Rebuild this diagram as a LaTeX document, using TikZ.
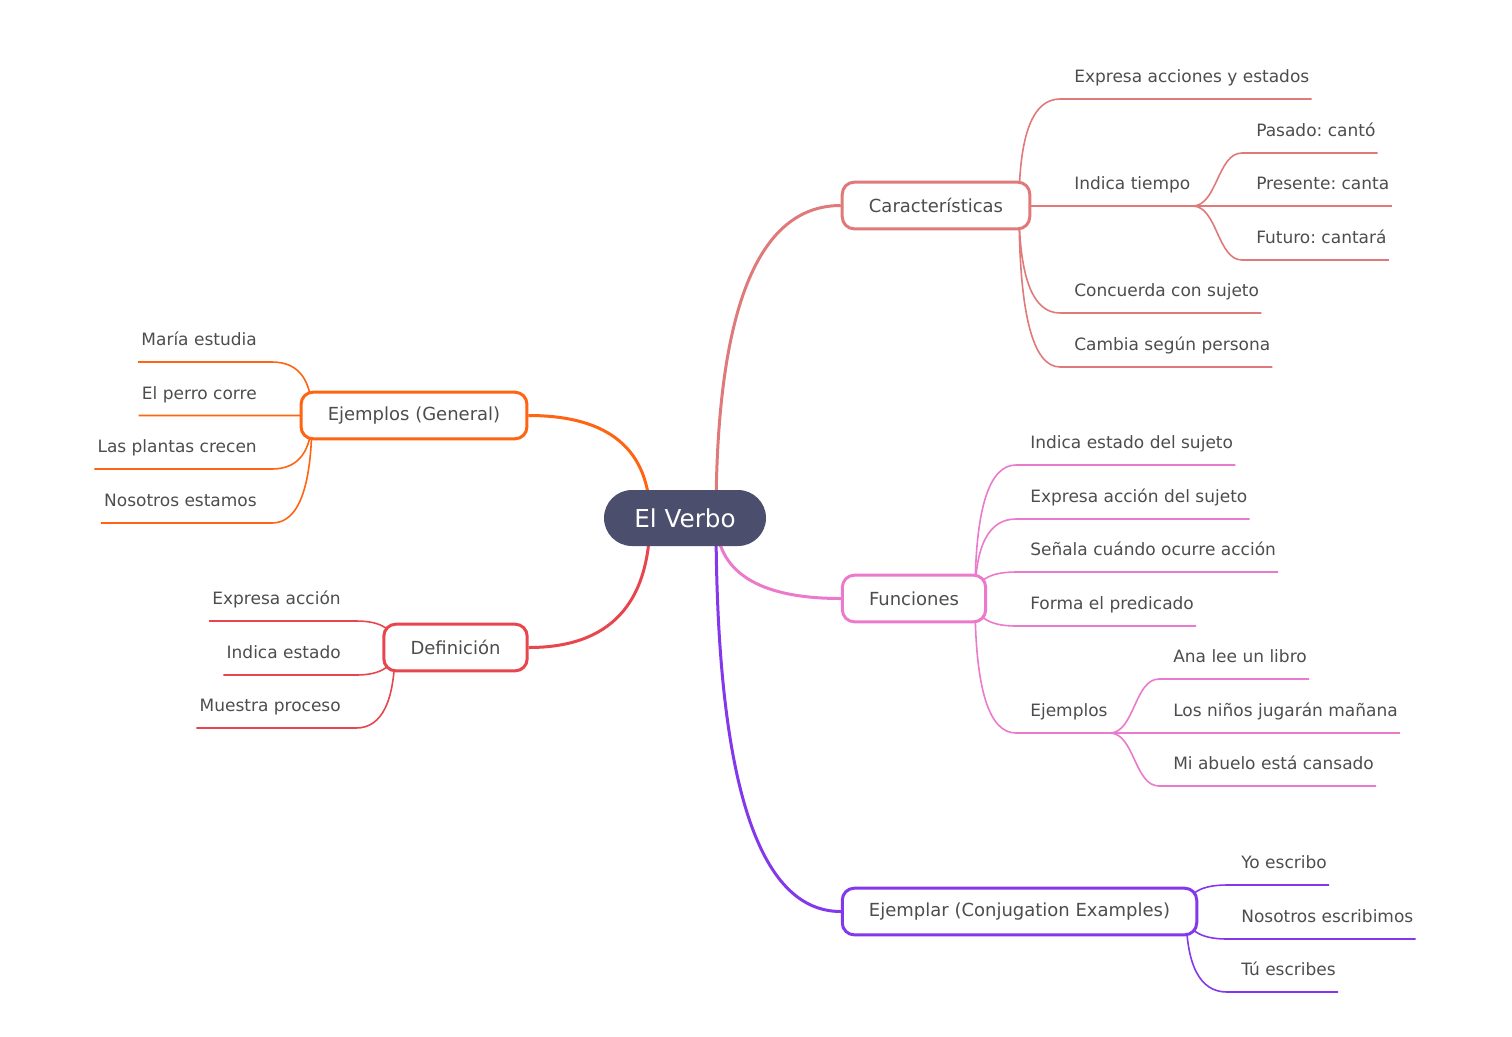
\documentclass[tikz,border=0pt]{standalone}
\usepackage{fontspec}
\setmainfont{DejaVu Sans}
\usetikzlibrary{calc,backgrounds}

\definecolor{rootfill}{HTML}{4B4E6D}
\definecolor{txt}{HTML}{4D4D4D}
\definecolor{carcol}{HTML}{E07A7A}
\definecolor{egcol}{HTML}{FF6412}
\definecolor{defcol}{HTML}{E8464F}
\definecolor{funcol}{HTML}{EA7ACB}
\definecolor{ejcol}{HTML}{8338EC}

\tikzset{
  root/.style={fill=rootfill, text=white, rounded corners=21pt, minimum width=121.5pt,
    minimum height=42pt, inner sep=0pt, font=\fontsize{18.5}{20}\selectfont},
  topic/.style={draw=#1, line width=2.25pt, fill=white, rounded corners=9pt,
    minimum height=35pt, inner xsep=20pt, text=txt, font=\fontsize{13.5}{15}\selectfont},
  leafbase/.style={inner xsep=0pt, inner ysep=12pt, text depth=0pt, text=txt,
    font=\fontsize{12.75}{14}\selectfont},
  leaf/.style={leafbase, anchor=south west,
    execute at begin node={\hspace*{10.5pt}}, execute at end node={\hspace*{1.5pt}}},
  lleaf/.style={leafbase, anchor=south east,
    execute at begin node={\hspace*{2.25pt}}, execute at end node={\hspace*{11.25pt}}},
  branch/.style={draw=#1, line width=2.25pt},
  twig/.style={draw=#1, line width=1.2pt},
  % vertical start, horizontal end
  qc/.style={to path={.. controls ($(\tikztostart)!2/3!(\tikztostart|-\tikztotarget)$)
    and ($(\tikztotarget)!2/3!(\tikztostart|-\tikztotarget)$) .. (\tikztotarget) \tikztonodes}},
  % horizontal start, horizontal end
  sc/.style={to path={.. controls ($(\tikztostart)!0.5!(\tikztostart-|\tikztotarget)$)
    and ($(\tikztotarget)!0.5!(\tikztotarget-|\tikztostart)$) .. (\tikztotarget) \tikztonodes}}
}

\begin{document}
\frenchspacing
\begin{tikzpicture}[x=0.75pt, y=-0.75pt]
  \useasboundingbox (0,0) rectangle (1512,1036);

  % --- Central node ---
  \node[root] (verbo) at (685,518) {El Verbo};
  \coordinate (rootR) at (716,518);
  \coordinate (rootL) at (650,518);

  % --- Main topics ---
  \node[topic=carcol] (car) at (936,205.5) {Características};
  \node[topic=egcol] (eg) at (414,415.5) {Ejemplos (General)};
  \node[topic=defcol] (def) at (455.5,647.5) {Definición};
  \node[topic=funcol] (fun) at (914,598.5) {Funciones};
  \node[topic=ejcol] (ej) at (1019.5,911.5) {Ejemplar (Conjugation Examples)};

  % --- Branch origins inside the boxes ---
  \coordinate (carO) at (1019,206);
  \coordinate (egO) at (312,415.5);
  \coordinate (defO) at (395,647.5);
  \coordinate (funO) at (975,598.5);
  \coordinate (ejO) at (1186,911.5);

  % --- Características ---
  \node[leaf] (c1) at (1060,99) {Expresa acciones y estados};
  \node[leaf] (it) at (1060,206) {Indica tiempo};
  \node[leaf] (c3) at (1060,313) {Concuerda con sujeto};
  \node[leaf] (c4) at (1060,367) {Cambia según persona};
  \node[leaf] (t1) at (1242,153) {Pasado: cantó};
  \node[leaf] (t2) at (1242,206) {Presente: canta};
  \node[leaf] (t3) at (1242,260) {Futuro: cantará};

  % --- Ejemplos (General) ---
  \node[lleaf] (g1) at (272,362) {María estudia};
  \node[lleaf] (g2) at (272,415.5) {El perro corre};
  \node[lleaf] (g3) at (272,469) {Las plantas crecen};
  \node[lleaf] (g4) at (272,523) {Nosotros estamos};

  % --- Definición ---
  \node[lleaf] (d1) at (356,621) {Expresa acción};
  \node[lleaf] (d2) at (356,675) {Indica estado};
  \node[lleaf] (d3) at (356,728) {Muestra proceso};

  % --- Funciones ---
  \node[leaf] (f1) at (1016,465) {Indica estado del sujeto};
  \node[leaf] (f2) at (1016,519) {Expresa acción del sujeto};
  \node[leaf] (f3) at (1016,572) {Señala cuándo ocurre acción};
  \node[leaf] (f4) at (1016,626) {Forma el predicado};
  \node[leaf] (fe) at (1016,733) {Ejemplos};
  \node[leaf] (e1) at (1159,679) {Ana lee un libro};
  \node[leaf] (e2) at (1159,733) {Los niños jugarán mañana};
  \node[leaf] (e3) at (1159,786) {Mi abuelo está cansado};

  % --- Ejemplar ---
  \node[leaf] (j1) at (1227,885) {Yo escribo};
  \node[leaf] (j2) at (1227,939) {Nosotros escribimos};
  \node[leaf] (j3) at (1227,992) {Tú escribes};

  \begin{scope}[on background layer]
    % root to topics
    \draw[branch=carcol] (rootR) to[qc] (car.west);
    \draw[branch=funcol] (rootR) to[qc] (fun.west);
    \draw[branch=ejcol] (rootR) to[qc] (ej.west);
    \draw[branch=egcol] (rootL) to[qc] (eg.east);
    \draw[branch=defcol] (rootL) to[qc] (def.east);

    % topics to leaves
    \foreach \n in {c1,it,c3,c4}
      \draw[twig=carcol] (carO) to[qc] (\n.south west) -- (\n.south east);
    \foreach \n in {t1,t2,t3}
      \draw[twig=carcol] (it.south east) to[sc] (\n.south west) -- (\n.south east);
    \foreach \n in {g1,g2,g3,g4}
      \draw[twig=egcol] (egO) to[qc] (\n.south east) -- (\n.south west);
    \foreach \n in {d1,d2,d3}
      \draw[twig=defcol] (defO) to[qc] (\n.south east) -- (\n.south west);
    \foreach \n in {f1,f2,f3,f4,fe}
      \draw[twig=funcol] (funO) to[qc] (\n.south west) -- (\n.south east);
    \foreach \n in {e1,e2,e3}
      \draw[twig=funcol] (fe.south east) to[sc] (\n.south west) -- (\n.south east);
    \foreach \n in {j1,j2,j3}
      \draw[twig=ejcol] (ejO) to[qc] (\n.south west) -- (\n.south east);
  \end{scope}
\end{tikzpicture}
\end{document}
